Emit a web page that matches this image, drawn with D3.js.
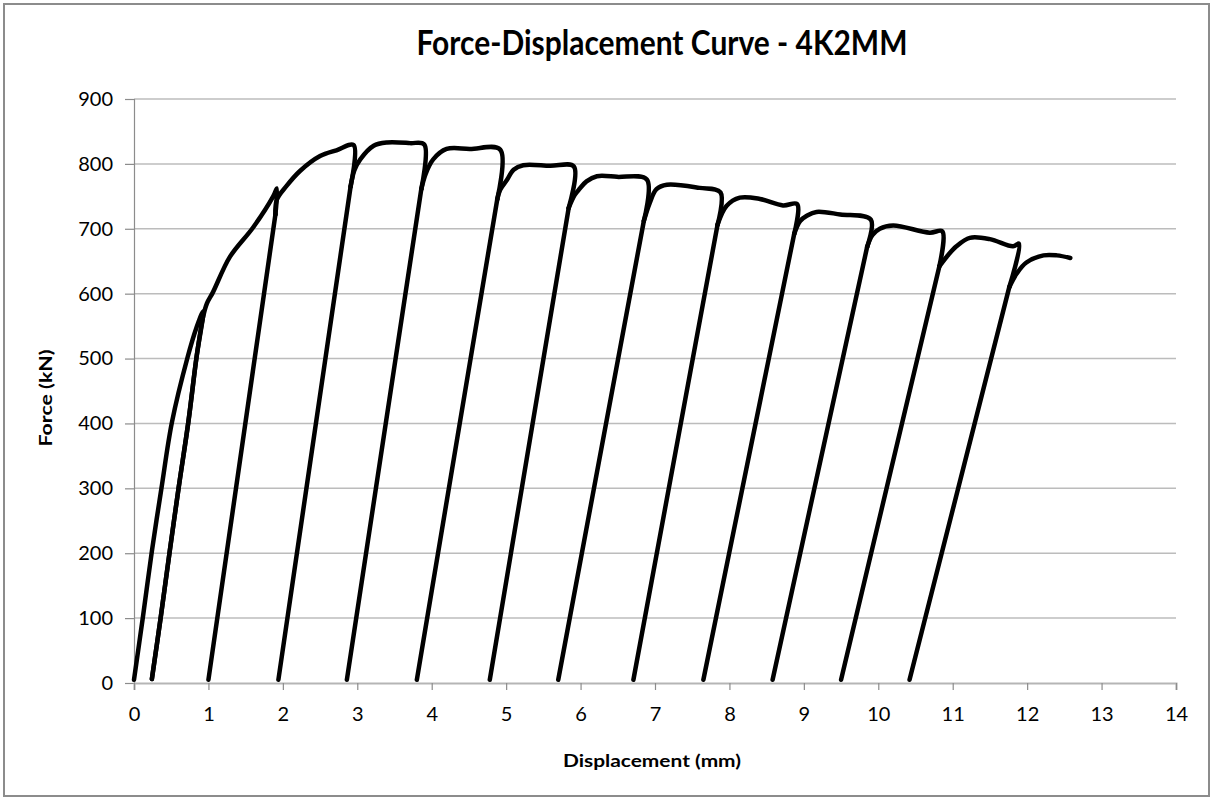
<!DOCTYPE html>
<html>
<head>
<meta charset="utf-8">
<script src="https://cdn.jsdelivr.net/npm/d3@7"></script>
<style>
  html, body { margin: 0; padding: 0; background: #fff; }
  svg { display: block; }
  text { font-family: Lato, "Open Sans", sans-serif; fill: #000; }
</style>
</head>
<body>
<svg id="chart" width="1212" height="800"></svg>
<script>
// Cyclic load test record: displacement (mm) and force (kN), in test order.
// Each cycle: loading envelope -> peak -> unloading to ~0 kN -> reloading.
const displacement = [
  0.00, 0.12, 0.24, 0.37, 0.51, 0.72, 0.84, 0.93,            // initial loading
  0.84, 0.73, 0.60, 0.48, 0.36, 0.24,                          // unload 1
  0.36, 0.48, 0.60, 0.73, 0.84, 0.93, 0.98, 1.06, 1.29, 1.60, 1.87, 1.92, // reload + envelope
  1.90, 1.00, 1.90,                                            // unload/reload 2
  1.92, 2.05, 2.23, 2.50, 2.72, 2.95,
  2.91, 1.94, 2.91,                                            // unload/reload 3
  2.96, 3.04, 3.22, 3.40, 3.71, 3.90,
  3.86, 2.86, 3.86,                                            // unload/reload 4
  3.92, 4.02, 4.20, 4.51, 4.92,
  4.88, 3.80, 4.88,                                            // unload/reload 5
  4.92, 5.01, 5.10, 5.23, 5.59, 5.91,
  5.84, 4.78, 5.84,                                            // unload/reload 6
  5.92, 5.99, 6.08, 6.22, 6.49, 6.89,
  6.85, 5.70, 6.85,                                            // unload/reload 7
  6.93, 7.02, 7.16, 7.60, 7.88,
  7.84, 6.71, 7.84,                                            // unload/reload 8
  7.96, 8.14, 8.41, 8.72, 8.91,
  8.87, 7.65, 8.87,                                            // unload/reload 9
  8.95, 9.04, 9.17, 9.49, 9.90,
  9.85, 8.58, 9.85,                                            // unload/reload 10
  9.92, 10.02, 10.20, 10.69, 10.86,
  10.82, 9.50, 10.82,                                          // unload/reload 11
  10.92, 11.05, 11.23, 11.50, 11.81, 11.89,
  11.76, 10.42, 11.76,                                         // unload/reload 12
  11.86, 11.99, 12.22, 12.40, 12.58
];
const force = [
  5, 102, 203, 301, 402, 502, 548, 573,
  502, 402, 301, 203, 102, 6,
  102, 203, 301, 402, 502, 565, 585, 602, 657, 702, 750, 762,
  722, 5, 722,
  745, 766, 789, 812, 821, 829,
  765, 5, 765,
  790, 807, 828, 833, 832, 830,
  761, 5, 761,
  785, 807, 823, 823, 822,
  745, 5, 745,
  760, 775, 791, 798, 797, 796,
  732, 5, 732,
  752, 762, 773, 781, 780, 776,
  712, 5, 712,
  740, 761, 768, 763, 756,
  706, 5, 706,
  735, 748, 746, 736, 738,
  692, 5, 692,
  712, 720, 726, 722, 714,
  672, 5, 672,
  690, 700, 705, 694, 696,
  642, 5, 642,
  657, 673, 686, 684, 673, 677,
  610, 5, 610,
  631, 648, 659, 659, 655
];

const xTicks = d3.range(0, 15, 1);
const yTicks = d3.range(0, 1000, 100);

const titleText = "Force-Displacement Curve - 4K2MM";
const xTitle = "Displacement (mm)";
const yTitle = "Force (kN)";

const svg = d3.select("#chart");

// outer chart frame
svg.append("rect")
  .attr("x", 4).attr("y", 4).attr("width", 1205).attr("height", 792)
  .attr("fill", "#fff").attr("stroke", "#8c8c8c").attr("stroke-width", 2);

const plot = { left: 134, right: 1176, top: 99, bottom: 683 };

const x = d3.scaleLinear().domain([0, 14]).range([plot.left, plot.right]);
const y = d3.scaleLinear().domain([0, 900]).range([plot.bottom, plot.top]);

// horizontal gridlines
svg.append("g")
  .selectAll("line")
  .data(yTicks.filter(d => d > 0))
  .join("line")
  .attr("x1", plot.left).attr("x2", plot.right)
  .attr("y1", d => y(d)).attr("y2", d => y(d))
  .attr("stroke", "#bcbcbc").attr("stroke-width", 1.5);

// y axis
const yAxis = svg.append("g")
  .attr("transform", `translate(${plot.left},0)`)
  .call(d3.axisLeft(y).tickValues(yTicks).tickSize(9).tickPadding(12).tickFormat(d3.format("d")));
yAxis.select(".domain").attr("stroke", "#8c8c8c").attr("stroke-width", 1.2);
yAxis.selectAll(".tick line").attr("stroke", "#8c8c8c").attr("stroke-width", 1.2);
yAxis.selectAll(".tick text")
  .attr("font-family", "Lato, 'Open Sans', sans-serif")
  .attr("font-size", 20).attr("fill", "#1a1a1a");

// x axis
const xAxis = svg.append("g")
  .attr("transform", `translate(0,${plot.bottom})`)
  .call(d3.axisBottom(x).tickValues(xTicks).tickSize(7).tickPadding(17).tickFormat(d3.format("d")));
xAxis.select(".domain").attr("stroke", "#b5b5b5").attr("stroke-width", 2);
xAxis.selectAll(".tick line").attr("stroke", "#8c8c8c").attr("stroke-width", 1.2);
xAxis.selectAll(".tick text")
  .attr("font-family", "Lato, 'Open Sans', sans-serif")
  .attr("font-size", 20).attr("fill", "#1a1a1a");

// force-displacement trace: smooth envelope pieces between unloading points,
// straight unload/reload branches down to the zero-force points
const pts = displacement.map((d, i) => [d, force[i]]);
const zeroIdx = d3.range(1, pts.length).filter(i => force[i] <= 6);

const smooth = d3.line()
  .x(d => x(d[0]))
  .y(d => y(d[1]))
  .curve(d3.curveCatmullRom.alpha(0.5));
const straight = d3.line()
  .x(d => x(d[0]))
  .y(d => y(d[1]));

const pieces = [];
let start = 0;
zeroIdx.forEach((z, k) => {
  // first piece keeps its own unloading points down to the first zero
  const end = k === 0 ? z : z - 1;
  pieces.push(pts.slice(start, end + 1));
  start = k === 0 ? z : z + 1;
});
pieces.push(pts.slice(start));

const branches = zeroIdx.slice(1).map(z => [pts[z - 1], pts[z]]);

const trace = svg.append("g")
  .attr("fill", "none")
  .attr("stroke", "#000")
  .attr("stroke-width", 4.5)
  .attr("stroke-linejoin", "round")
  .attr("stroke-linecap", "round");

trace.selectAll("path.env")
  .data(pieces)
  .join("path")
  .attr("class", "env")
  .attr("d", smooth);

trace.selectAll("path.branch")
  .data(branches)
  .join("path")
  .attr("class", "branch")
  .attr("d", straight);

// condensed bold label at a target width
function fitText(sel, size, width) {
  sel.attr("font-size", size)
    .attr("textLength", width)
    .attr("lengthAdjust", "spacingAndGlyphs");
}

const title = svg.append("text")
  .attr("x", 662).attr("y", 55)
  .attr("text-anchor", "middle")
  .attr("font-weight", "bold")
  .text(titleText);
fitText(title, 34, 491);

const xt = svg.append("text")
  .attr("x", 652).attr("y", 767)
  .attr("text-anchor", "middle")
  .attr("font-weight", "bold")
  .text(xTitle);
fitText(xt, 16.5, 178);

const yt = svg.append("text")
  .attr("transform", "translate(52,398) rotate(-90)")
  .attr("text-anchor", "middle")
  .attr("font-weight", "bold")
  .text(yTitle);
fitText(yt, 16.5, 97);
</script>
</body>
</html>
